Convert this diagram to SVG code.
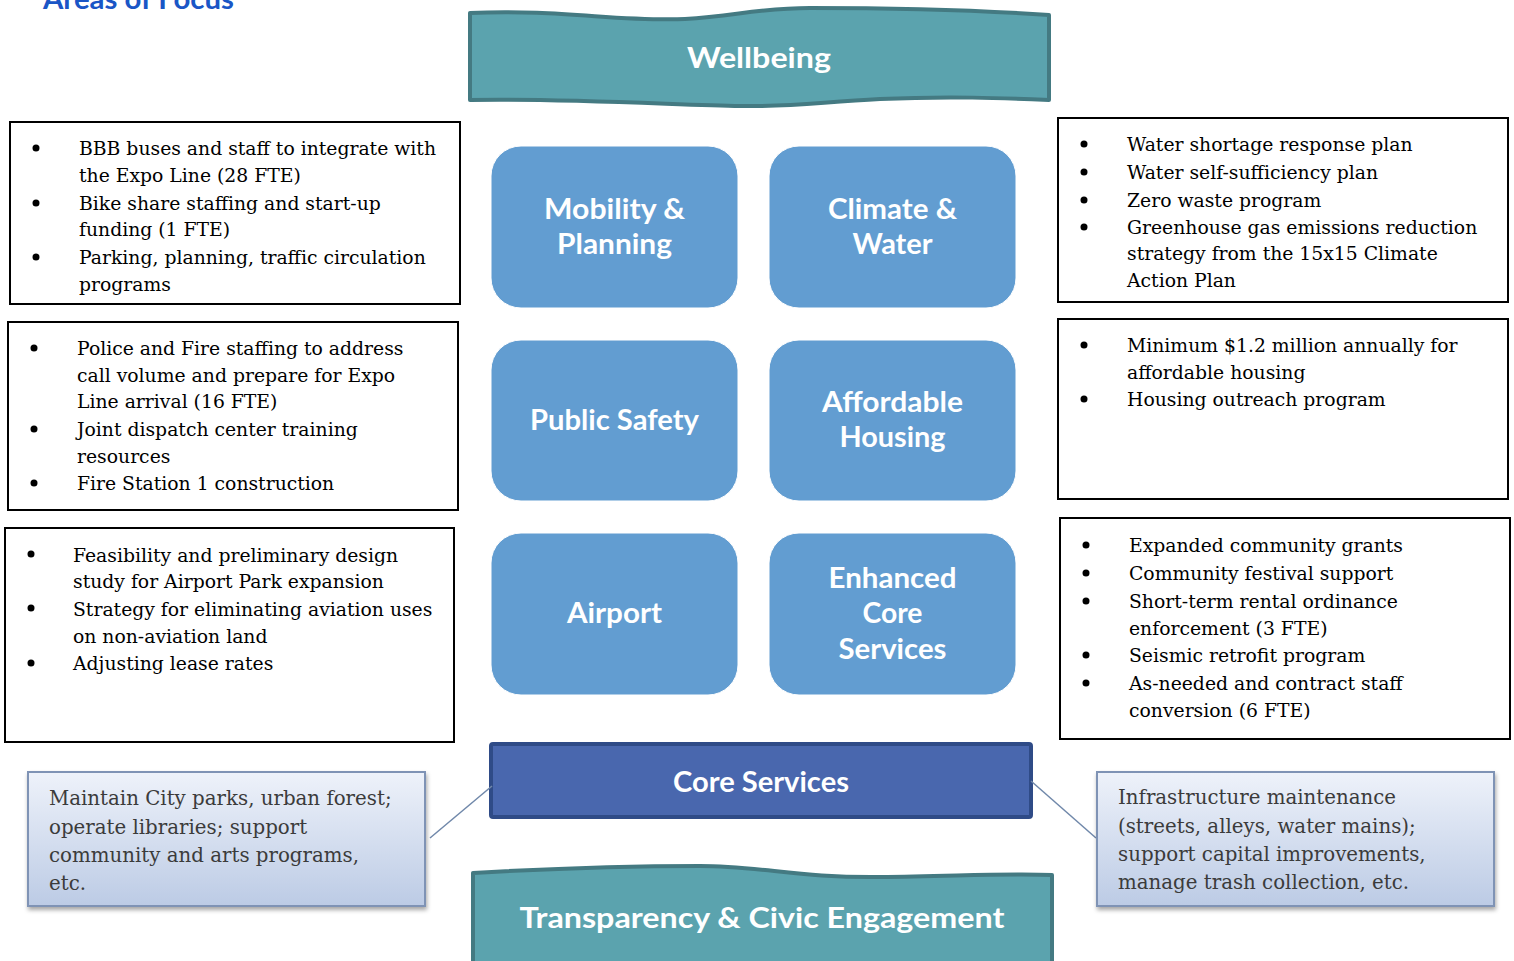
<svg xmlns="http://www.w3.org/2000/svg" width="1514" height="961" viewBox="0 0 1514 961">
<defs>
<style>
.ttl{font-family:Lato,"Open Sans",sans-serif;font-weight:bold;fill:#ffffff;text-anchor:middle;font-size:28px}
.body{font-family:"DejaVu Serif",serif;font-size:18.8px;fill:#000}
.call{font-family:"DejaVu Serif",serif;font-size:19.8px;fill:#3b3b3b}
.lbox{fill:#fff;stroke:#000;stroke-width:2}
.rbox{fill:#629dd1;stroke:#ffffff;stroke-width:1}
.banner{fill:#5ba3ae;stroke:#447a82;stroke-width:4;stroke-linejoin:round}
.conn{stroke:#7088aa;stroke-width:1.5;fill:none}
.cbox{fill:url(#cg);stroke:#7f93b5;stroke-width:2;filter:url(#sh)}
</style>
<linearGradient id="cg" x1="0" y1="0" x2="0" y2="1">
<stop offset="0" stop-color="#eef2fa"/>
<stop offset="1" stop-color="#bccbe5"/>
</linearGradient>
<filter id="sh" x="-10%" y="-10%" width="120%" height="130%">
<feDropShadow dx="1" dy="3" stdDeviation="2" flood-color="#000" flood-opacity="0.35"/>
</filter>
</defs>
<rect width="1514" height="961" fill="#fff"/>

<g id="title">
<text x="43" y="9" font-family="Lato,'Open Sans',sans-serif" font-weight="bold" font-size="28" fill="#1a56c6" textLength="191" lengthAdjust="spacingAndGlyphs">Areas of Focus</text>
</g>

<g id="wellbeing">
<path class="banner" d="M470,13 C560,9 620,22 685,19 C735,16 760,8 810,8 C900,8 990,11 1049,15 L1049,100 C1000,98 950,96 880,99 C820,102 790,107 740,106 C680,105 560,98 470,100 Z"/>
<text class="ttl" x="759" y="68" textLength="144" lengthAdjust="spacingAndGlyphs">Wellbeing</text>
</g>

<g id="mobility">
<rect class="rbox" x="491" y="146" width="247" height="162" rx="30"/>
<text class="ttl" x="614.5" y="219" textLength="141" lengthAdjust="spacingAndGlyphs">Mobility &amp;</text>
<text class="ttl" x="614.5" y="254" textLength="115" lengthAdjust="spacingAndGlyphs">Planning</text>
</g>
<g id="climate">
<rect class="rbox" x="769" y="146" width="247" height="162" rx="30"/>
<text class="ttl" x="892.5" y="219" textLength="129" lengthAdjust="spacingAndGlyphs">Climate &amp;</text>
<text class="ttl" x="892.5" y="254" textLength="80" lengthAdjust="spacingAndGlyphs">Water</text>
</g>
<g id="publicsafety">
<rect class="rbox" x="491" y="340" width="247" height="161" rx="30"/>
<text class="ttl" x="614.5" y="430" textLength="169" lengthAdjust="spacingAndGlyphs">Public Safety</text>
</g>
<g id="housing">
<rect class="rbox" x="769" y="340" width="247" height="161" rx="30"/>
<text class="ttl" x="892.5" y="412" textLength="141" lengthAdjust="spacingAndGlyphs">Affordable</text>
<text class="ttl" x="892.5" y="447" textLength="106" lengthAdjust="spacingAndGlyphs">Housing</text>
</g>
<g id="airport">
<rect class="rbox" x="491" y="533" width="247" height="162" rx="30"/>
<text class="ttl" x="614.5" y="623" textLength="95" lengthAdjust="spacingAndGlyphs">Airport</text>
</g>
<g id="enhanced">
<rect class="rbox" x="769" y="533" width="247" height="162" rx="30"/>
<text class="ttl" x="892.5" y="588" textLength="128" lengthAdjust="spacingAndGlyphs">Enhanced</text>
<text class="ttl" x="892.5" y="623" textLength="60" lengthAdjust="spacingAndGlyphs">Core</text>
<text class="ttl" x="892.5" y="659" textLength="108" lengthAdjust="spacingAndGlyphs">Services</text>
</g>

<g id="coreservices">
<rect x="491" y="744" width="540" height="73" fill="#4967ae" stroke="#2f4b87" stroke-width="4" rx="2"/>
<text class="ttl" x="761" y="792" textLength="176" lengthAdjust="spacingAndGlyphs">Core Services</text>
</g>

<g id="transparency">
<path class="banner" d="M473,873 C560,868 640,866 700,866 C760,866 800,878 880,877 C960,876 1010,873 1052,875 L1052,975 L473,975 Z"/>
<text class="ttl" x="762" y="928" font-size="30" textLength="485" lengthAdjust="spacingAndGlyphs">Transparency &amp; Civic Engagement</text>
</g>

<g id="connectors">
<line class="conn" x1="430" y1="838" x2="492" y2="786"/>
<line class="conn" x1="1031" y1="781" x2="1096" y2="838"/>
</g>

<g id="list-mobility">
<rect class="lbox" x="10" y="122" width="450" height="182"/>
<g fill="#000"><circle cx="36" cy="148" r="3.5"/><circle cx="36" cy="203" r="3.5"/><circle cx="36" cy="257" r="3.5"/></g>
<text class="body" x="79" y="155">BBB buses and staff to integrate with</text>
<text class="body" x="79" y="182">the Expo Line (28 FTE)</text>
<text class="body" x="79" y="210">Bike share staffing and start-up</text>
<text class="body" x="79" y="236">funding (1 FTE)</text>
<text class="body" x="79" y="264">Parking, planning, traffic circulation</text>
<text class="body" x="79" y="291">programs</text>
</g>

<g id="list-safety">
<rect class="lbox" x="8" y="322" width="450" height="188"/>
<g fill="#000"><circle cx="34" cy="348" r="3.5"/><circle cx="34" cy="429" r="3.5"/><circle cx="34" cy="483" r="3.5"/></g>
<text class="body" x="77" y="355">Police and Fire staffing to address</text>
<text class="body" x="77" y="382">call volume and prepare for Expo</text>
<text class="body" x="77" y="408">Line arrival (16 FTE)</text>
<text class="body" x="77" y="436">Joint dispatch center training</text>
<text class="body" x="77" y="463">resources</text>
<text class="body" x="77" y="490">Fire Station 1 construction</text>
</g>

<g id="list-airport">
<rect class="lbox" x="5" y="528" width="449" height="214"/>
<g fill="#000"><circle cx="31" cy="554" r="3.5"/><circle cx="31" cy="608" r="3.5"/><circle cx="31" cy="663" r="3.5"/></g>
<text class="body" x="73" y="562">Feasibility and preliminary design</text>
<text class="body" x="73" y="588">study for Airport Park expansion</text>
<text class="body" x="73" y="616">Strategy for eliminating aviation uses</text>
<text class="body" x="73" y="643">on non-aviation land</text>
<text class="body" x="73" y="670">Adjusting lease rates</text>
</g>

<g id="list-climate">
<rect class="lbox" x="1058" y="118" width="450" height="184"/>
<g fill="#000"><circle cx="1084" cy="144" r="3.5"/><circle cx="1084" cy="172" r="3.5"/><circle cx="1084" cy="200" r="3.5"/><circle cx="1084" cy="227" r="3.5"/></g>
<text class="body" x="1127" y="151">Water shortage response plan</text>
<text class="body" x="1127" y="179">Water self-sufficiency plan</text>
<text class="body" x="1127" y="207">Zero waste program</text>
<text class="body" x="1127" y="234">Greenhouse gas emissions reduction</text>
<text class="body" x="1127" y="260">strategy from the 15x15 Climate</text>
<text class="body" x="1127" y="287">Action Plan</text>
</g>

<g id="list-housing">
<rect class="lbox" x="1058" y="319" width="450" height="180"/>
<g fill="#000"><circle cx="1084" cy="345" r="3.5"/><circle cx="1084" cy="399" r="3.5"/></g>
<text class="body" x="1127" y="352">Minimum $1.2 million annually for</text>
<text class="body" x="1127" y="379">affordable housing</text>
<text class="body" x="1127" y="406">Housing outreach program</text>
</g>

<g id="list-core">
<rect class="lbox" x="1060" y="518" width="450" height="221"/>
<g fill="#000"><circle cx="1086" cy="545" r="3.5"/><circle cx="1086" cy="573" r="3.5"/><circle cx="1086" cy="601" r="3.5"/><circle cx="1086" cy="655" r="3.5"/><circle cx="1086" cy="683" r="3.5"/></g>
<text class="body" x="1129" y="552">Expanded community grants</text>
<text class="body" x="1129" y="580">Community festival support</text>
<text class="body" x="1129" y="608">Short-term rental ordinance</text>
<text class="body" x="1129" y="635">enforcement (3 FTE)</text>
<text class="body" x="1129" y="662">Seismic retrofit program</text>
<text class="body" x="1129" y="690">As-needed and contract staff</text>
<text class="body" x="1129" y="717">conversion (6 FTE)</text>
</g>

<g id="callout-left">
<rect class="cbox" x="28" y="772" width="397" height="134"/>
<text class="call" x="49" y="805">Maintain City parks, urban forest;</text>
<text class="call" x="49" y="834">operate libraries; support</text>
<text class="call" x="49" y="862">community and arts programs,</text>
<text class="call" x="49" y="890">etc.</text>
</g>

<g id="callout-right">
<rect class="cbox" x="1097" y="772" width="397" height="134"/>
<text class="call" x="1118" y="804">Infrastructure maintenance</text>
<text class="call" x="1118" y="833">(streets, alleys, water mains);</text>
<text class="call" x="1118" y="861">support capital improvements,</text>
<text class="call" x="1118" y="889">manage trash collection, etc.</text>
</g>
</svg>
